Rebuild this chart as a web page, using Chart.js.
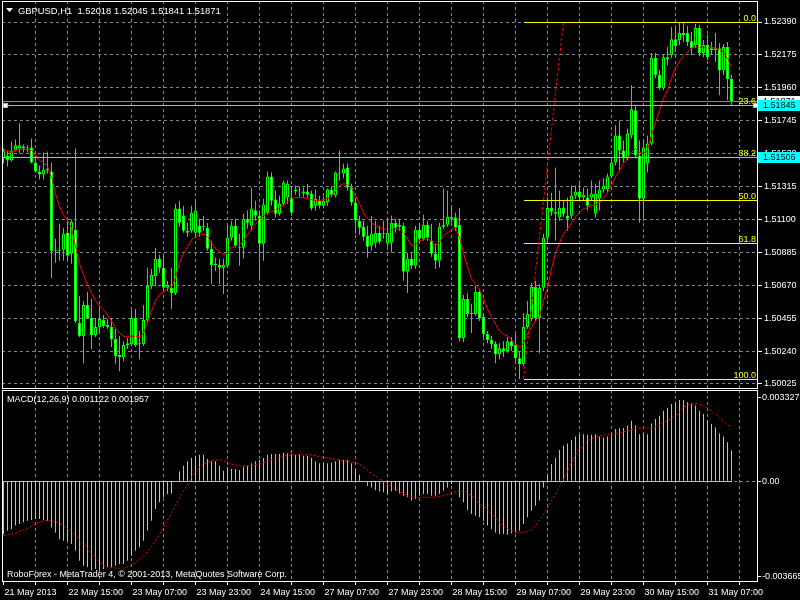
<!DOCTYPE html>
<html>
<head>
<meta charset="utf-8">
<script src="https://cdn.jsdelivr.net/npm/chart.js@4.4.0/dist/chart.umd.min.js"></script>
<style>
  html, body { margin: 0; padding: 0; background: #000; }
  #wrap { position: relative; width: 800px; height: 600px; background: #000; overflow: hidden; }
  #priceChart { position: absolute; left: 0; top: 0; }
  #macdChart { position: absolute; left: 0; top: 389px; }
</style>
</head>
<body>
<div id="wrap">
  <canvas id="priceChart" width="800" height="389"></canvas>
  <canvas id="macdChart" width="800" height="211"></canvas>
</div>
<script>
// ---- data (one entry per hourly bar) ----
const symbolTitle = 'GBPUSD,H1';

const opens = [
  1.51498,1.51518,1.51485,1.51551,1.51564,1.51577,1.51564,1.51570,1.51472,1.51413,
  1.51394,1.51420,1.51413,1.50895,1.50902,1.50902,1.51013,1.50876,1.51033,1.50423,
  1.50338,1.50541,1.50456,1.50345,1.50397,1.50443,1.50410,1.50397,1.50319,1.50214,
  1.50200,1.50279,1.50286,1.50456,1.50286,1.50286,1.50443,1.50666,1.50731,1.50843,
  1.50784,1.50653,1.50653,1.50620,1.51171,1.51125,1.51026,1.51026,1.51013,1.51059,
  1.51053,1.51046,1.50908,1.50803,1.50803,1.50784,1.50797,1.50980,1.51059,1.50921,
  1.50915,1.51105,1.51059,1.51158,1.51125,1.50941,1.51144,1.51380,1.51230,1.51138,
  1.51203,1.51243,1.51243,1.51282,1.51275,1.51269,1.51282,1.51269,1.51190,1.51223,
  1.51190,1.51210,1.51295,1.51256,1.51407,1.51400,1.51439,1.51308,1.51210,1.51092,
  1.51053,1.50994,1.50928,1.50948,1.51013,1.51013,1.50941,1.50948,1.51079,1.51053,
  1.51059,1.50758,1.50843,1.50797,1.51033,1.50974,1.51066,1.50961,1.50876,1.50830,
  1.51053,1.51066,1.51118,1.51112,1.51066,1.50325,1.50581,1.50482,1.50482,1.50627,
  1.50463,1.50351,1.50312,1.50286,1.50220,1.50259,1.50240,1.50305,1.50279,1.50194,
  1.50155,1.50397,1.50450,1.50659,1.50456,1.50653,1.50980,1.51177,1.51151,1.51112,
  1.51177,1.51125,1.51125,1.51256,1.51282,1.51243,1.51243,1.51243,1.51138,1.51236,
  1.51295,1.51295,1.51380,1.51472,1.51649,1.51551,1.51498,1.51649,1.51813,1.51518,
  1.51236,1.51466,1.51597,1.52154,1.52043,1.51957,1.52160,1.52174,1.52278,1.52272,
  1.52318,1.52318,1.52265,1.52239,1.52350,1.52187,1.52239,1.52206,1.52219,1.52219,
  1.52075,1.52226,1.52018
];
const highs = [
  1.51564,1.51551,1.51610,1.51623,1.51728,1.51590,1.51584,1.51629,1.51518,1.51452,
  1.51538,1.51544,1.51472,1.50974,1.51072,1.51046,1.51092,1.51099,1.51564,1.50600,
  1.50568,1.50627,1.50581,1.50456,1.50535,1.50476,1.50450,1.50456,1.50384,1.50338,
  1.50305,1.50325,1.50509,1.50515,1.50371,1.50541,1.50784,1.50777,1.50915,1.50869,
  1.50863,1.50699,1.50784,1.51203,1.51223,1.51190,1.51079,1.51190,1.51223,1.51105,
  1.51125,1.51079,1.50961,1.50849,1.50843,1.50843,1.51059,1.51092,1.51105,1.51007,
  1.51138,1.51158,1.51308,1.51223,1.51158,1.51236,1.51413,1.51407,1.51289,1.51256,
  1.51354,1.51354,1.51302,1.51321,1.51315,1.51308,1.51334,1.51289,1.51295,1.51256,
  1.51249,1.51302,1.51315,1.51413,1.51551,1.51466,1.51466,1.51334,1.51243,1.51125,
  1.51092,1.51059,1.51125,1.51092,1.51059,1.51092,1.51105,1.51125,1.51105,1.51105,
  1.51079,1.50882,1.50882,1.51059,1.51079,1.51131,1.51092,1.51072,1.50941,1.51079,
  1.51302,1.51289,1.51190,1.51144,1.51177,1.50607,1.50620,1.50548,1.50666,1.50646,
  1.50489,1.50371,1.50338,1.50305,1.50292,1.50305,1.50332,1.50332,1.50358,1.50240,
  1.50489,1.50568,1.50686,1.50699,1.50679,1.51007,1.51243,1.51275,1.51439,1.51289,
  1.51223,1.51243,1.51321,1.51321,1.51354,1.51308,1.51302,1.51354,1.51334,1.51354,
  1.51367,1.51400,1.51505,1.51715,1.51747,1.51616,1.51695,1.51977,1.51846,1.51616,
  1.51616,1.51649,1.52187,1.52187,1.52075,1.52174,1.52226,1.52357,1.52357,1.52390,
  1.52383,1.52364,1.52324,1.52377,1.52370,1.52272,1.52305,1.52259,1.52318,1.52252,
  1.52246,1.52259,1.52045
];
const lows = [
  1.51466,1.51446,1.51479,1.51544,1.51531,1.51538,1.51538,1.51466,1.51407,1.51361,
  1.51361,1.51400,1.50718,1.50817,1.50830,1.50830,1.50836,1.50810,1.50423,1.50332,
  1.50161,1.50450,1.50253,1.50332,1.50371,1.50391,1.50384,1.50266,1.50155,1.50109,
  1.50174,1.50253,1.50273,1.50266,1.50187,1.50273,1.50430,1.50646,1.50666,1.50751,
  1.50633,1.50633,1.50515,1.50607,1.51053,1.51013,1.50987,1.51013,1.50994,1.50987,
  1.51026,1.50895,1.50679,1.50764,1.50679,1.50613,1.50784,1.50961,1.50915,1.50797,
  1.50843,1.51039,1.51026,1.51092,1.50699,1.50830,1.51131,1.51190,1.51112,1.51125,
  1.51190,1.51203,1.51125,1.51262,1.51249,1.51243,1.51243,1.51158,1.51158,1.51171,
  1.51171,1.51190,1.51249,1.51243,1.51354,1.51367,1.51289,1.51190,1.51007,1.51000,
  1.50961,1.50849,1.50895,1.50915,1.50941,1.50974,1.50921,1.50882,1.51013,1.51026,
  1.50699,1.50620,1.50777,1.50777,1.50961,1.50961,1.50961,1.50856,1.50777,1.50784,
  1.51039,1.51053,1.51079,1.51026,1.50305,1.50299,1.50463,1.50358,1.50469,1.50436,
  1.50332,1.50292,1.50253,1.50161,1.50187,1.50200,1.50227,1.50240,1.50174,1.50058,
  1.50141,1.50384,1.50436,1.50436,1.50227,1.50633,1.50961,1.51125,1.50961,1.51092,
  1.51118,1.51026,1.51105,1.51236,1.51223,1.51223,1.51158,1.51223,1.51112,1.51158,
  1.51275,1.51275,1.51367,1.51452,1.51420,1.51472,1.51485,1.51629,1.51498,1.51079,
  1.51092,1.51407,1.51584,1.52023,1.51944,1.51944,1.52108,1.52154,1.52206,1.52239,
  1.52259,1.52233,1.52174,1.52219,1.52167,1.52160,1.52141,1.52174,1.52128,1.51911,
  1.52043,1.51879,1.51841
];
const closes = [
  1.51551,1.51485,1.51551,1.51584,1.51584,1.51564,1.51570,1.51472,1.51413,1.51394,
  1.51426,1.51433,1.50895,1.50902,1.50895,1.51007,1.50863,1.51085,1.50436,1.50338,
  1.50541,1.50456,1.50345,1.50397,1.50450,1.50404,1.50397,1.50318,1.50207,1.50200,
  1.50279,1.50292,1.50456,1.50279,1.50292,1.50443,1.50666,1.50738,1.50843,1.50784,
  1.50653,1.50672,1.50620,1.51171,1.51079,1.51026,1.51013,1.51144,1.51158,1.51013,
  1.51059,1.50908,1.50803,1.50810,1.50784,1.50803,1.50980,1.51059,1.50928,1.50915,
  1.51105,1.51079,1.51171,1.51125,1.50941,1.51197,1.51380,1.51223,1.51138,1.51203,
  1.51341,1.51334,1.51144,1.51295,1.51269,1.51282,1.51262,1.51171,1.51236,1.51190,
  1.51223,1.51295,1.51262,1.51407,1.51400,1.51433,1.51308,1.51210,1.51092,1.51046,
  1.50987,1.50921,1.51007,1.51013,1.50954,1.51007,1.51013,1.51079,1.51046,1.51066,
  1.50758,1.50843,1.50797,1.51033,1.50974,1.51066,1.50980,1.50876,1.50830,1.51053,
  1.51066,1.51118,1.51105,1.51046,1.50325,1.50581,1.50482,1.50489,1.50627,1.50456,
  1.50351,1.50312,1.50286,1.50220,1.50259,1.50240,1.50305,1.50273,1.50194,1.50155,
  1.50397,1.50482,1.50659,1.50456,1.50653,1.50980,1.51177,1.51151,1.51138,1.51177,
  1.51138,1.51105,1.51256,1.51282,1.51243,1.51262,1.51190,1.51269,1.51269,1.51295,
  1.51321,1.51380,1.51472,1.51649,1.51551,1.51498,1.51662,1.51820,1.51518,1.51236,
  1.51570,1.51597,1.52154,1.52043,1.51957,1.52160,1.52147,1.52278,1.52233,1.52318,
  1.52305,1.52259,1.52219,1.52350,1.52187,1.52239,1.52160,1.52219,1.52206,1.52075,
  1.52226,1.52017,1.51871
];
// red moving average drawn over the candles
const maValues = [
  1.51564,1.51544,1.51538,1.51551,1.51557,1.51557,1.51557,1.51551,1.51518,1.51485,
  1.51472,1.51446,1.51380,1.51269,1.51184,1.51131,1.51092,1.51046,1.50928,1.50810,
  1.50738,1.50672,1.50620,1.50568,1.50535,1.50509,1.50476,1.50436,1.50391,1.50358,
  1.50338,1.50332,1.50338,1.50338,1.50332,1.50358,1.50423,1.50502,1.50568,1.50607,
  1.50627,1.50646,1.50659,1.50718,1.50817,1.50876,1.50921,1.50967,1.50987,1.51000,
  1.51007,1.50987,1.50948,1.50908,1.50889,1.50869,1.50882,1.50915,1.50928,1.50935,
  1.50961,1.51000,1.51033,1.51066,1.51105,1.51125,1.51138,1.51151,1.51164,1.51177,
  1.51190,1.51216,1.51236,1.51243,1.51243,1.51243,1.51236,1.51230,1.51223,1.51223,
  1.51230,1.51236,1.51249,1.51289,1.51321,1.51334,1.51328,1.51302,1.51256,1.51203,
  1.51144,1.51105,1.51079,1.51059,1.51046,1.51039,1.51033,1.51033,1.51033,1.51039,
  1.51013,1.50974,1.50928,1.50941,1.50961,1.50967,1.50974,1.50954,1.50928,1.50954,
  1.50994,1.51013,1.51033,1.51046,1.50987,1.50882,1.50790,1.50712,1.50679,1.50640,
  1.50581,1.50515,1.50463,1.50417,1.50371,1.50351,1.50338,1.50312,1.50286,1.50266,
  1.50292,1.50351,1.50397,1.50436,1.50463,1.50568,1.50653,1.50777,1.50882,1.50948,
  1.51007,1.51039,1.51079,1.51118,1.51144,1.51171,1.51177,1.51190,1.51197,1.51210,
  1.51236,1.51275,1.51321,1.51380,1.51420,1.51466,1.51505,1.51538,1.51564,1.51538,
  1.51531,1.51551,1.51649,1.51734,1.51813,1.51892,1.51944,1.52023,1.52089,1.52134,
  1.52167,1.52194,1.52219,1.52226,1.52226,1.52226,1.52219,1.52226,1.52219,1.52206,
  1.52193,1.52154,1.52095
];
// MACD(12,26,9) main histogram and signal
const macdMain = [
  -0.00192,-0.00180,-0.00174,-0.00161,-0.00155,-0.00149,-0.00143,-0.00141,-0.00137,-0.00137,
  -0.00141,-0.00143,-0.00168,-0.00186,-0.00210,-0.00216,-0.00216,-0.00228,-0.00253,-0.00289,
  -0.00307,-0.00313,-0.00325,-0.00319,-0.00325,-0.00319,-0.00313,-0.00313,-0.00307,-0.00301,
  -0.00301,-0.00289,-0.00271,-0.00253,-0.00240,-0.00216,-0.00180,-0.00143,-0.00101,-0.00076,
  -0.00058,-0.00046,-0.00044,-0.00001,0.00036,0.00057,0.00073,0.00085,0.00093,0.00097,
  0.00097,0.00081,0.00073,0.00073,0.00057,0.00039,0.00051,0.00045,0.00045,0.00041,
  0.00053,0.00057,0.00066,0.00073,0.00078,0.00085,0.00097,0.00100,0.00100,0.00100,
  0.00104,0.00102,0.00100,0.00097,0.00097,0.00093,0.00093,0.00085,0.00073,0.00066,
  0.00066,0.00066,0.00069,0.00073,0.00078,0.00078,0.00078,0.00066,0.00045,0.00024,
  0.00002,-0.00016,-0.00022,-0.00032,-0.00036,-0.00040,-0.00046,-0.00036,-0.00034,-0.00044,
  -0.00052,-0.00058,-0.00070,-0.00064,-0.00052,-0.00046,-0.00046,-0.00052,-0.00052,-0.00046,
  -0.00034,-0.00022,-0.00010,-0.00001,-0.00058,-0.00076,-0.00104,-0.00119,-0.00125,-0.00131,
  -0.00143,-0.00161,-0.00174,-0.00186,-0.00192,-0.00192,-0.00194,-0.00189,-0.00186,-0.00180,
  -0.00155,-0.00131,-0.00107,-0.00089,-0.00070,-0.00022,0.00027,0.00063,0.00085,0.00114,
  0.00130,0.00138,0.00151,0.00163,0.00172,0.00172,0.00170,0.00170,0.00172,0.00163,
  0.00160,0.00163,0.00172,0.00191,0.00193,0.00194,0.00203,0.00221,0.00203,0.00172,
  0.00175,0.00172,0.00211,0.00227,0.00239,0.00257,0.00267,0.00282,0.00288,0.00296,
  0.00296,0.00288,0.00282,0.00276,0.00257,0.00245,0.00223,0.00209,0.00197,0.00175,
  0.00163,0.00142,0.001122
];
const macdSignal = [
  -0.00198,-0.00195,-0.00193,-0.00188,-0.00182,-0.00177,-0.00171,-0.00164,-0.00155,-0.00149,
  -0.00144,-0.00143,-0.00144,-0.00148,-0.00155,-0.00161,-0.00171,-0.00186,-0.00198,-0.00214,
  -0.00228,-0.00246,-0.00265,-0.00279,-0.00294,-0.00307,-0.00312,-0.00314,-0.00316,-0.00316,
  -0.00316,-0.00312,-0.00305,-0.00295,-0.00283,-0.00271,-0.00255,-0.00238,-0.00216,-0.00192,
  -0.00168,-0.00141,-0.00114,-0.00087,-0.00061,-0.00034,-0.00010,0.00015,0.00033,0.00051,
  0.00062,0.00070,0.00075,0.00078,0.00078,0.00075,0.00069,0.00063,0.00059,0.00056,
  0.00056,0.00057,0.00058,0.00061,0.00063,0.00068,0.00073,0.00078,0.00083,0.00087,
  0.00091,0.00095,0.00096,0.00097,0.00097,0.00097,0.00097,0.00096,0.00093,0.00090,
  0.00087,0.00085,0.00083,0.00080,0.00078,0.00075,0.00073,0.00070,0.00067,0.00063,
  0.00053,0.00041,0.00029,0.00019,0.00008,-0.00001,-0.00010,-0.00019,-0.00030,-0.00039,
  -0.00046,-0.00053,-0.00056,-0.00058,-0.00058,-0.00058,-0.00058,-0.00058,-0.00057,-0.00055,
  -0.00052,-0.00047,-0.00041,-0.00038,-0.00036,-0.00036,-0.00041,-0.00052,-0.00067,-0.00083,
  -0.00092,-0.00104,-0.00119,-0.00134,-0.00148,-0.00160,-0.00172,-0.00180,-0.00183,-0.00186,
  -0.00186,-0.00182,-0.00175,-0.00161,-0.00143,-0.00121,-0.00097,-0.00070,-0.00046,-0.00019,
  0.00008,0.00036,0.00068,0.00097,0.00117,0.00134,0.00146,0.00155,0.00163,0.00165,
  0.00169,0.00171,0.00172,0.00175,0.00177,0.00181,0.00185,0.00189,0.00194,0.00194,
  0.00194,0.00194,0.00195,0.00199,0.00206,0.00215,0.00221,0.00229,0.00239,0.00251,
  0.00270,0.00279,0.00283,0.00284,0.00282,0.00274,0.00267,0.00257,0.00245,0.00233,
  0.00219,0.00206,0.001957
];
const macdMin = -0.003665;
const macdMax = 0.003327;

// axis ticks
const priceTicks = [1.52390,1.52175,1.51960,1.51745,1.51530,1.51315,1.51100,1.50885,1.50670,1.50455,1.50240,1.50025];
const timeBars = [0,16,32,48,64,80,96,112,128,144,160,176];
const timeLabels = ['21 May 2013','22 May 15:00','23 May 07:00','23 May 23:00','24 May 15:00','27 May 07:00',
                    '27 May 23:00','28 May 15:00','29 May 07:00','29 May 23:00','30 May 15:00','31 May 07:00'];
const gridBars = [0,8,16,24,32,40,48,56,64,72,80,88,96,104,112,120,128,136,144,152,160,168,176,184];

// objects on the chart
const fibLevels = ['0.0','23.6','38.2','50.0','61.8','100.0'];
const fibPrices = [1.52390,1.51845,1.51506,1.51224,1.50949,1.50058];
const fibStartBar = 130;
const fibTrend = { fromBar: 130, fromPrice: 1.50058, toBar: 140, toPrice: 1.52390 };
const hLines = [1.51845, 1.51506];
const bidPrice = 1.51871;
const copyrightText = 'RoboForex - MetaTrader 4, \u00a9 2001-2013, MetaQuotes Software Corp.';

// ---- chart setup ----
const FONT = '9px "Liberation Sans", Arial, sans-serif';
Chart.defaults.font.family = '"Liberation Sans", Arial, sans-serif';
Chart.defaults.font.size = 9;
Chart.defaults.color = '#ffffff';

const last = closes.length - 1;
const barIdx = closes.map((c, i) => i);
const wickData = barIdx.map(i => ({ x: i, y: [lows[i], highs[i]] }));
const bodyData = barIdx.map(i => ({ x: i, y: [opens[i], closes[i]] }));
const maData = barIdx.map(i => ({ x: i, y: maValues[i] }));
const histData = barIdx.map(i => ({ x: i, y: macdMain[i] }));
const signalData = barIdx.map(i => ({ x: i, y: macdSignal[i] }));

const xRange = { type: 'linear', min: -0.375, max: 188.625, offset: false };
const gridColor = '#778899';

function priceBox(ctx, y, text, fill) {
  const py = Math.round(y);
  ctx.fillStyle = fill;
  ctx.fillRect(758, py - 5, 42, 11);
  ctx.fillStyle = '#000000';
  ctx.textAlign = 'left';
  ctx.textBaseline = 'middle';
  ctx.fillText(text, 763, py + 0.5);
}

const mainOverlay = {
  id: 'mainOverlay',
  afterDraw(chart) {
    const { ctx, chartArea: a, scales: { x, y } } = chart;
    ctx.save();
    ctx.font = FONT;
    ctx.beginPath();
    ctx.rect(a.left, a.top, a.right - a.left, a.bottom - a.top);
    ctx.clip();
    ctx.lineWidth = 1;
    const hline = (price, x0, color) => {
      const py = Math.round(y.getPixelForValue(price)) + 0.5;
      ctx.strokeStyle = color;
      ctx.setLineDash([]);
      ctx.beginPath(); ctx.moveTo(x0, py); ctx.lineTo(a.right, py); ctx.stroke();
      return py;
    };
    hline(bidPrice, a.left, gridColor);
    const fx = Math.round(x.getPixelForValue(fibStartBar));
    fibPrices.forEach((p, k) => {
      const py = hline(p, fx, '#ffff00');
      ctx.fillStyle = '#ffff00';
      ctx.textAlign = 'right';
      ctx.textBaseline = 'alphabetic';
      ctx.fillText(fibLevels[k], a.right - 2, py - 2);
    });
    // fibo trend line
    ctx.strokeStyle = '#ff0000';
    ctx.setLineDash([3, 2]);
    ctx.beginPath();
    ctx.moveTo(x.getPixelForValue(fibTrend.fromBar), y.getPixelForValue(fibTrend.fromPrice));
    ctx.lineTo(x.getPixelForValue(fibTrend.toBar), y.getPixelForValue(fibTrend.toPrice));
    ctx.stroke();
    ctx.setLineDash([]);
    const cy = hLines.map(p => hline(p, a.left, '#00ffff'));
    // selection markers on the first horizontal line
    [a.left + 3, a.right - 3].forEach(mx => {
      ctx.fillStyle = '#00ffff';
      ctx.fillRect(Math.round(mx) - 2, Math.round(cy[0]) - 3, 5, 5);
      ctx.fillStyle = '#ffffff';
      ctx.fillRect(Math.round(mx) - 1, Math.round(cy[0]) - 2, 3, 3);
    });
    ctx.restore();

    ctx.save();
    ctx.font = FONT;
    // frame
    ctx.strokeStyle = '#ffffff';
    ctx.lineWidth = 1;
    ctx.strokeRect(a.left + 0.5, a.top + 0.5, a.right - a.left - 1, a.bottom - a.top - 1);
    // title
    ctx.fillStyle = '#ffffff';
    ctx.beginPath(); ctx.moveTo(6, 8); ctx.lineTo(13, 8); ctx.lineTo(9.5, 12); ctx.closePath(); ctx.fill();
    ctx.textAlign = 'left';
    ctx.textBaseline = 'middle';
    ctx.font = '9.4px "Liberation Sans", Arial, sans-serif';
    ctx.fillText(symbolTitle + '  ' + opens[last].toFixed(5) + ' ' + highs[last].toFixed(5) + ' ' +
                 lows[last].toFixed(5) + ' ' + closes[last].toFixed(5), 18, 11);
    ctx.font = FONT;
    // price boxes on the axis
    priceBox(ctx, y.getPixelForValue(bidPrice), bidPrice.toFixed(5), '#ffffff');
    hLines.forEach(p => priceBox(ctx, y.getPixelForValue(p), p.toFixed(5), '#00ffff'));
    ctx.restore();
  }
};

const macdOverlay = {
  id: 'macdOverlay',
  beforeDatasetsDraw(chart) {
    const { ctx, scales: { x, y } } = chart;
    const zy = Math.round(y.getPixelForValue(0)) + 0.5;
    ctx.save();
    ctx.strokeStyle = '#c0c0c0';
    ctx.lineWidth = 1;
    ctx.beginPath();
    ctx.moveTo(x.getPixelForValue(0) - 0.5, zy);
    ctx.lineTo(x.getPixelForValue(last) + 0.5, zy);
    ctx.stroke();
    ctx.restore();
  },
  afterDraw(chart) {
    const { ctx, chartArea: a, scales: { y } } = chart;
    ctx.save();
    ctx.font = FONT;
    ctx.strokeStyle = '#ffffff';
    ctx.lineWidth = 1;
    ctx.strokeRect(a.left + 0.5, a.top + 0.5, a.right - a.left - 1, a.bottom - a.top - 1);
    ctx.fillStyle = '#ffffff';
    ctx.textAlign = 'left';
    ctx.textBaseline = 'middle';
    ctx.fillText('MACD(12,26,9) ' + macdMain[last].toFixed(6) + ' ' + macdSignal[last].toFixed(6), 7, a.top + 10);
    ctx.fillText(copyrightText, 7, a.bottom - 7);
    const labels = [
      [macdMax.toFixed(6), a.top + 7],
      ['0.00', y.getPixelForValue(0)],
      [macdMin.toFixed(6), a.bottom - 6]
    ];
    labels.forEach(([t, ly]) => {
      const py = Math.round(ly) + 0.5;
      ctx.beginPath(); ctx.moveTo(a.right, py); ctx.lineTo(a.right + 3, py); ctx.stroke();
      ctx.fillText(t, a.right + 4, py);
    });
    ctx.restore();
  }
};

new Chart(document.getElementById('priceChart'), {
  type: 'bar',
  data: {
    datasets: [
      { type: 'line', label: 'MA', data: maData, borderColor: '#ff0000', borderWidth: 1,
        pointRadius: 0, tension: 0, fill: false },
      { label: 'Body', data: bodyData,
        backgroundColor: c => closes[c.dataIndex] >= opens[c.dataIndex] ? '#000000' : '#ffffff',
        borderColor: '#00ff00', borderWidth: 1, borderSkipped: false,
        barThickness: 3, inflateAmount: 0, grouped: false },
      { label: 'Wick', data: wickData, backgroundColor: '#00ff00', borderWidth: 0,
        barThickness: 1, inflateAmount: 0, grouped: false }
    ]
  },
  options: {
    responsive: false,
    animation: false,
    events: [],
    layout: { padding: { left: 2, top: 1, right: 0, bottom: 0 } },
    plugins: { legend: { display: false }, tooltip: { enabled: false } },
    scales: {
      x: Object.assign({}, xRange, {
        afterBuildTicks: s => { s.ticks = gridBars.filter(v => v > 0).map(v => ({ value: v })); },
        afterFit: s => { s.height = 0; s.paddingLeft = 0; s.paddingRight = 0; },
        ticks: { display: false },
        grid: { color: gridColor, offset: false, drawTicks: false },
        border: { display: false, dash: [3, 3] }
      }),
      y: {
        position: 'right',
        min: 1.499923,
        max: 1.525272,
        afterBuildTicks: s => { s.ticks = priceTicks.map(v => ({ value: v })); },
        afterFit: s => { s.width = 42; s.paddingTop = 0; s.paddingBottom = 0; },
        ticks: { color: '#ffffff', padding: 2, autoSkip: false, callback: v => Number(v).toFixed(5) },
        grid: { color: gridColor, tickColor: '#ffffff', tickLength: 4, drawTicks: true },
        border: { display: false, dash: [3, 3] }
      }
    }
  },
  plugins: [mainOverlay]
});

new Chart(document.getElementById('macdChart'), {
  type: 'bar',
  data: {
    datasets: [
      { type: 'line', label: 'Signal', data: signalData, borderColor: '#ff0000', borderWidth: 1,
        borderDash: [2, 2], pointRadius: 0, tension: 0, fill: false },
      { label: 'MACD', data: histData, backgroundColor: '#c0c0c0', borderWidth: 0,
        barThickness: 1, inflateAmount: 0, grouped: false }
    ]
  },
  options: {
    responsive: false,
    animation: false,
    events: [],
    layout: { padding: { left: 2, top: 1, right: 0, bottom: 0 } },
    plugins: { legend: { display: false }, tooltip: { enabled: false } },
    scales: {
      x: Object.assign({}, xRange, {
        afterBuildTicks: s => { s.ticks = gridBars.map(v => ({ value: v })); },
        afterFit: s => { s.height = 18; s.paddingLeft = 0; s.paddingRight = 0; },
        ticks: {
          autoSkip: false, maxRotation: 0, minRotation: 0, align: 'start', labelOffset: 1, padding: 2,
          color: '#ffffff',
          callback: v => { const k = timeBars.indexOf(v); return k >= 0 ? timeLabels[k] : ''; }
        },
        grid: {
          color: c => (c.tick && c.tick.value === 0) ? 'rgba(0,0,0,0)' : gridColor,
          offset: false, drawTicks: true, tickLength: 3, tickColor: '#ffffff'
        },
        border: { display: false, dash: [3, 3] }
      }),
      y: {
        position: 'right',
        min: macdMin,
        max: macdMax,
        afterBuildTicks: s => { s.ticks = [{ value: 0 }]; },
        afterFit: s => { s.width = 42; s.paddingTop = 0; s.paddingBottom = 0; },
        ticks: { display: false },
        grid: { color: gridColor, drawTicks: false },
        border: { display: false, dash: [3, 3] }
      }
    }
  },
  plugins: [macdOverlay]
});
</script>
</body>
</html>
